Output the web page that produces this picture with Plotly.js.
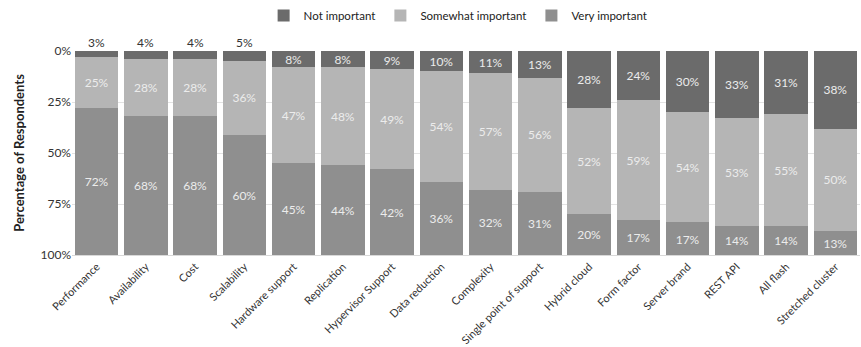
<!DOCTYPE html>
<html>
<head>
<meta charset="utf-8">
<script src="https://cdn.plot.ly/plotly-3.0.1.min.js"></script>
<style>html,body{margin:0;padding:0;background:#fff;}#chart{width:861px;height:347px;}</style>
</head>
<body>
<div id="chart"></div>
<script>
const categories = ["Performance","Availability","Cost","Scalability","Hardware support","Replication","Hypervisor Support","Data reduction","Complexity","Single point of support","Hybrid cloud","Form factor","Server brand","REST API","All flash","Stretched cluster"];
const notImportant = [3,4,4,5,8,8,9,10,11,13,28,24,30,33,31,38];
const somewhatImportant = [25,28,28,36,47,48,49,54,57,56,52,59,54,53,55,50];
const veryImportant = [72,68,68,60,45,44,42,36,32,31,20,17,17,14,14,13];
const yTickVals = [0,25,50,75,100];
const yTickText = ["0%","25%","50%","75%","100%"];

const FONT = "Lato, 'Open Sans', sans-serif";
const pct = a => a.map(v => v + "%");
// small top segments get labels placed above the bar
const outsideThreshold = 6;
const notPos = notImportant.map(v => v < outsideThreshold ? "none" : "inside");

const common = {type:"bar", x:categories, constraintext:"none", insidetextanchor:"middle",
  textfont:{family:FONT, size:12, color:"#ececec"}, hoverinfo:"skip"};

const traces = [
  Object.assign({}, common, {name:"Not important", y:notImportant, text:pct(notImportant), textposition:notPos, marker:{color:"#6b6b6b"}}),
  Object.assign({}, common, {name:"Somewhat important", y:somewhatImportant, text:pct(somewhatImportant), textposition:"inside", marker:{color:"#b5b5b5"}}),
  Object.assign({}, common, {name:"Very important", y:veryImportant, text:pct(veryImportant), textposition:"inside", marker:{color:"#8f8f8f"}})
];

const annotations = [];
notImportant.forEach((v,i) => {
  if (v < outsideThreshold) {
    annotations.push({x:categories[i], y:0, yanchor:"bottom", xanchor:"center", text:v+"%", showarrow:false,
      font:{family:FONT, size:12, color:"#333"}, yshift:-1});
  }
});

const layout = {
  width:861, height:347,
  margin:{l:72, r:1, t:51, b:92},
  paper_bgcolor:"#fff", plot_bgcolor:"#fff",
  barmode:"stack", bargap:0.12,
  font:{family:FONT, color:"#333"},
  showlegend:true,
  legend:{orientation:"h", x:0.49, xanchor:"center", y:1.245, yanchor:"top", font:{family:FONT, size:11.5, color:"#222"}, traceorder:"normal", itemwidth:30, tracegroupgap:0},
  xaxis:{tickangle:-45, tickfont:{family:FONT, size:11, color:"#333"}, showgrid:false, ticks:"", showline:true, linecolor:"#d9d9d9", automargin:false},
  yaxis:{range:[100,0], tickvals:yTickVals, ticktext:yTickText, tickfont:{family:FONT, size:12, color:"#333"},
    showgrid:true, gridcolor:"#e3e3e3", zeroline:false, ticks:"", ticklen:0, automargin:false,
    title:{text:"<b>Percentage of Respondents</b>", font:{family:FONT, size:13, color:"#222"}, standoff:12}},
  annotations:annotations
};

Plotly.newPlot("chart", traces, layout, {displayModeBar:false, staticPlot:true});
</script>
</body>
</html>
